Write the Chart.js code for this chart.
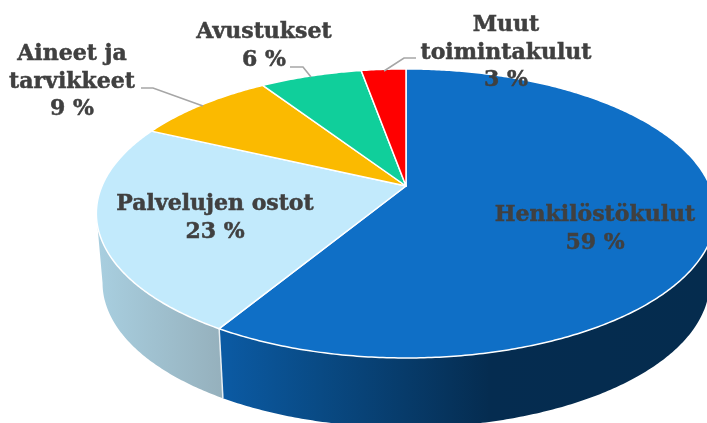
<!DOCTYPE html>
<html>
<head>
<meta charset="utf-8">
<style>html,body{margin:0;padding:0;background:#fff;overflow:hidden}canvas{display:block}</style>
<script src="https://cdn.jsdelivr.net/npm/chart.js@4"></script>
</head>
<body>
<canvas id="c" width="707" height="423"></canvas>
<script>
const categories = ["Henkilöstökulut", "Palvelujen ostot", "Aineet ja tarvikkeet", "Avustukset", "Muut toimintakulut"];
const shares = [58.6, 23.4, 8.8, 6.4, 2.8];
const labelLines = [["Henkilöstökulut"], ["Palvelujen ostot"], ["Aineet ja", "tarvikkeet"], ["Avustukset"], ["Muut", "toimintakulut"]];
const topColors = ["#0F6FC6", "#C2EAFC", "#FBBA00", "#10CF9B", "#FF0000"];

// layout (style only)
const labelBoxes = [
  { x: 595, y: 215 }, { x: 215, y: 204 }, { x: 72, y: 54 }, { x: 264, y: 32 }, { x: 506, y: 25 }
];
const lineHeight = 27.8;
const leaders = [null, null,
  [[141, 88], [153, 88], [203, 106]],
  [[290, 67], [303, 67], [311, 77]],
  [[416, 58], [404, 58], [384, 71]]
];
const FONT = 'bold 22px "DejaVu Serif"';
const VX = 406, VY = 186, A = 304, B = 139.3, K = -0.19, DEPTH = 69.5, SHRINK = 0.98;

function project(angle) {
  const t = angle + Math.PI / 2, u = Math.sin(t), v = -Math.cos(t), w = 1 + K * v;
  return [VX + A * u / w, VY + B * v / w];
}
function lower(p) { return [VX + (p[0] - VX) * SHRINK, p[1] + DEPTH]; }
function samples(a, b) {
  const n = Math.max(2, Math.ceil(Math.abs(b - a) / 0.01)), out = [];
  for (let i = 0; i <= n; i++) out.push(project(a + (b - a) * i / n));
  return out;
}

Chart.ArcElement.prototype.draw = function (ctx) {
  const pts = samples(this.startAngle, this.endAngle);
  ctx.save();
  ctx.beginPath();
  ctx.moveTo(VX, VY);
  pts.forEach(p => ctx.lineTo(p[0], p[1]));
  ctx.closePath();
  ctx.fillStyle = this.options.backgroundColor;
  ctx.fill();
  ctx.strokeStyle = this.options.borderColor;
  ctx.lineWidth = this.options.borderWidth;
  ctx.lineJoin = "round";
  ctx.stroke();
  ctx.restore();
};

const wallPlugin = {
  id: "wall",
  beforeDatasetsDraw(chart) {
    const ctx = chart.ctx, arcs = chart.getDatasetMeta(0).data;
    const lo = -Math.PI / 2 + 101 * Math.PI / 180, hi = -Math.PI / 2 + 259 * Math.PI / 180;
    arcs.forEach((arc, i) => {
      const a = Math.max(arc.startAngle, lo), b = Math.min(arc.endAngle, hi);
      if (b <= a) return;
      const top = samples(a, b), bot = top.map(lower).reverse();
      ctx.save();
      ctx.beginPath();
      top.concat(bot).forEach((p, j) => j ? ctx.lineTo(p[0], p[1]) : ctx.moveTo(p[0], p[1]));
      ctx.closePath();
      const g = ctx.createLinearGradient(i === 0 ? 224 : 100, 0, i === 0 ? 707 : 224, 0);
      if (i === 0) {
        g.addColorStop(0, "#0B5AA3");
        g.addColorStop(0.2, "#094A84");
        g.addColorStop(0.55, "#052C50");
        g.addColorStop(1, "#052C4E");
      } else {
        g.addColorStop(0, "#A8CEDF");
        g.addColorStop(1, "#95B0BC");
      }
      ctx.fillStyle = g;
      ctx.fill();
      ctx.restore();
    });
    // seams between visible wall sections
    arcs.forEach(arc => {
      if (arc.endAngle > lo && arc.endAngle < hi) {
        const p = project(arc.endAngle), q = lower(p);
        ctx.save();
        ctx.strokeStyle = "#E8EEF2";
        ctx.lineWidth = 1.5;
        ctx.beginPath();
        ctx.moveTo(p[0], p[1]);
        ctx.lineTo(q[0], q[1]);
        ctx.stroke();
        ctx.restore();
      }
    });
  }
};

const labelPlugin = {
  id: "sliceLabels",
  afterDatasetsDraw(chart) {
    const ctx = chart.ctx;
    ctx.save();
    ctx.strokeStyle = "#A6A6A6";
    ctx.lineWidth = 1.6;
    leaders.forEach(l => {
      if (!l) return;
      ctx.beginPath();
      l.forEach((p, j) => j ? ctx.lineTo(p[0], p[1]) : ctx.moveTo(p[0], p[1]));
      ctx.stroke();
    });
    ctx.fillStyle = "#404040";
    ctx.strokeStyle = "#404040";
    ctx.lineWidth = 0.5;
    ctx.font = FONT;
    ctx.textAlign = "center";
    ctx.textBaseline = "middle";
    labelLines.forEach((lines, i) => {
      const box = labelBoxes[i];
      lines.concat([Math.round(shares[i]) + " %"]).forEach((t, j) => {
        ctx.fillText(t, box.x, box.y + j * lineHeight);
        ctx.strokeText(t, box.x, box.y + j * lineHeight);
      });
    });
    ctx.restore();
  }
};

new Chart(document.getElementById("c"), {
  type: "pie",
  data: {
    labels: categories,
    datasets: [{ data: shares, backgroundColor: topColors, borderColor: "#FFFFFF", borderWidth: 1.5 }]
  },
  options: {
    responsive: false,
    animation: false,
    events: [],
    plugins: { legend: { display: false }, tooltip: { enabled: false } }
  },
  plugins: [wallPlugin, labelPlugin]
});
</script>
</body>
</html>
